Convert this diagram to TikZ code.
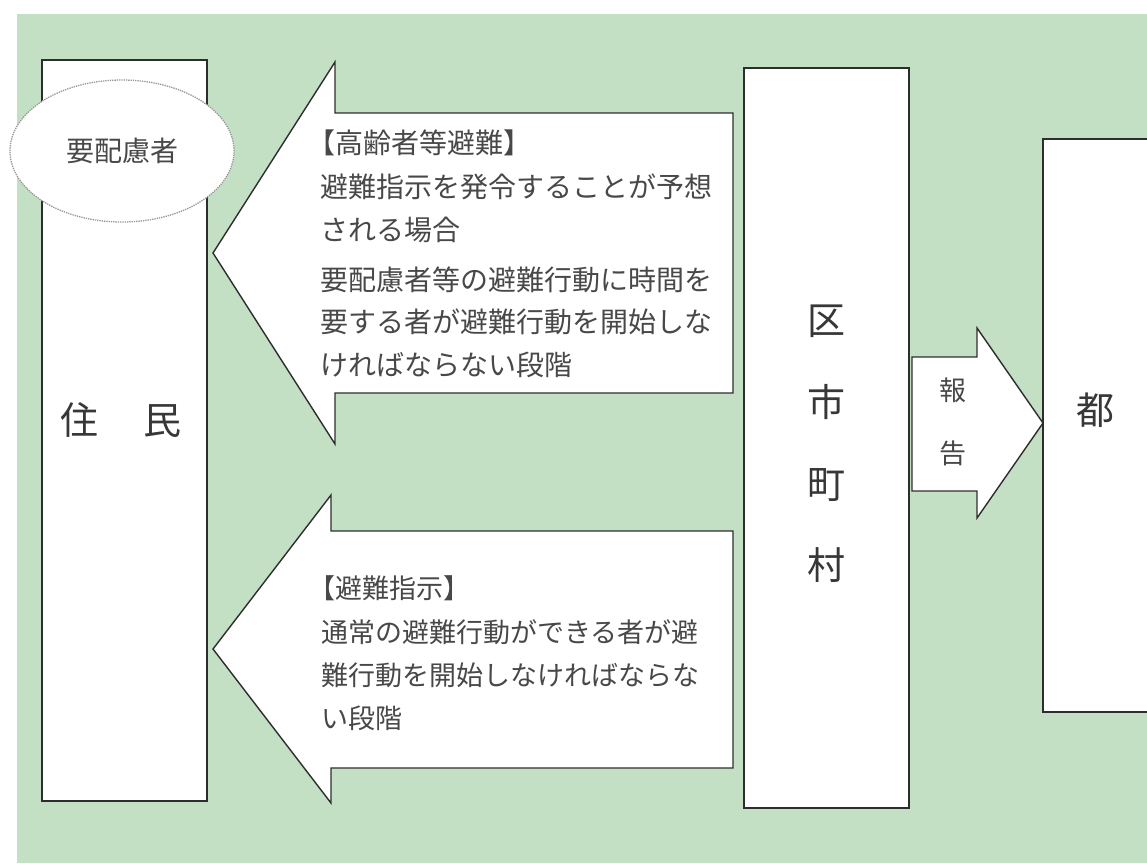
\documentclass[tikz,border=0pt]{standalone}
\usepackage{fontspec}
\usetikzlibrary{shapes.geometric}
\newfontfamily\jp{Noto Sans CJK JP}
\definecolor{bggreen}{RGB}{196,224,196}
\definecolor{linegray}{RGB}{45,45,45}
\definecolor{txtgray}{RGB}{72,72,72}
\definecolor{bigtxtgray}{RGB}{55,55,55}
\definecolor{dotgray}{RGB}{150,150,150}
\begin{document}
\begin{tikzpicture}[x=1pt,y=-1pt,
  panel/.style={draw=linegray, line width=1.8pt, fill=white, inner sep=0, anchor=north west},
  blockarrow/.style={draw=linegray, line width=1.4pt, fill=white, line join=miter},
  bigtxt/.style={font=\jp\fontsize{38}{40}\selectfont, text=bigtxtgray, inner sep=0},
  uptxt/.style={anchor=base west, inner sep=0, text=txtgray, font=\jp\fontsize{28}{30}\selectfont},
  lowtxt/.style={anchor=base west, inner sep=0, text=txtgray, font=\jp\fontsize{27}{30}\selectfont},
  ]
\clip (0,0) rectangle (1147,863);
\fill[white] (0,0) rectangle (1147,863);
\fill[bggreen] (17,14) rectangle (1147,863);

% boxes
\node[panel, minimum width=165pt, minimum height=741pt] (jumin) at (41,59) {};
\node[panel, minimum width=165pt, minimum height=740pt] (kushi) at (743,67) {};

% arrows from 区市町村 to 住民
\draw[blockarrow] (733,113) -- (335,113) -- (335,62) -- (213,253) -- (335,444) -- (335,393) -- (733,393) -- cycle;
\draw[blockarrow] (733,531) -- (331,531) -- (331,495) -- (213,649) -- (331,803) -- (331,768) -- (733,768) -- cycle;

% report arrow
\draw[blockarrow] (912,357) -- (977,357) -- (977,328) -- (1043,423) -- (977,518) -- (977,491) -- (912,491) -- cycle;

\node[panel, minimum width=140pt, minimum height=573pt] (to) at (1042,138) {};

% ellipse
\node[ellipse, draw=dotgray, densely dotted, line width=1.3pt, fill=white,
      minimum width=224pt, minimum height=142pt, inner sep=0,
      font=\jp\fontsize{28}{30}\selectfont, text=txtgray] (yohairyo) at (122,151) {要配慮者};

% big labels
\node[bigtxt] (juminlbl) at (121,420) {住\hspace{46pt}民};
\node[bigtxt, align=center, font=\jp\fontsize{38}{81.7}\selectfont] (kushilbl) at (826,444) {区\\市\\町\\村};
\node[bigtxt] (tolbl) at (1095,410) {都};
\node[inner sep=0, text=txtgray, font=\jp\fontsize{27}{30}\selectfont] (ho) at (953,390) {報};
\node[inner sep=0, text=txtgray, font=\jp\fontsize{27}{30}\selectfont] (koku) at (953,453) {告};

% upper arrow text
\node[uptxt] (u1) at (307,153.6) {【高齢者等避難】};
\node[uptxt] (u2) at (320,197.6) {避難指示を発令することが予想};
\node[uptxt] (u3) at (320,240.6) {される場合};
\node[uptxt] (u4) at (320,290.6) {要配慮者等の避難行動に時間を};
\node[uptxt] (u5) at (320,332.6) {要する者が避難行動を開始しな};
\node[uptxt] (u6) at (320,375.6) {ければならない段階};

% lower arrow text
\node[lowtxt] (l1) at (308,598.3) {【避難指示】};
\node[lowtxt] (l2) at (321,642.3) {通常の避難行動ができる者が避};
\node[lowtxt] (l3) at (321,685.3) {難行動を開始しなければならな};
\node[lowtxt] (l4) at (321,728.3) {い段階};
\end{tikzpicture}
\end{document}
